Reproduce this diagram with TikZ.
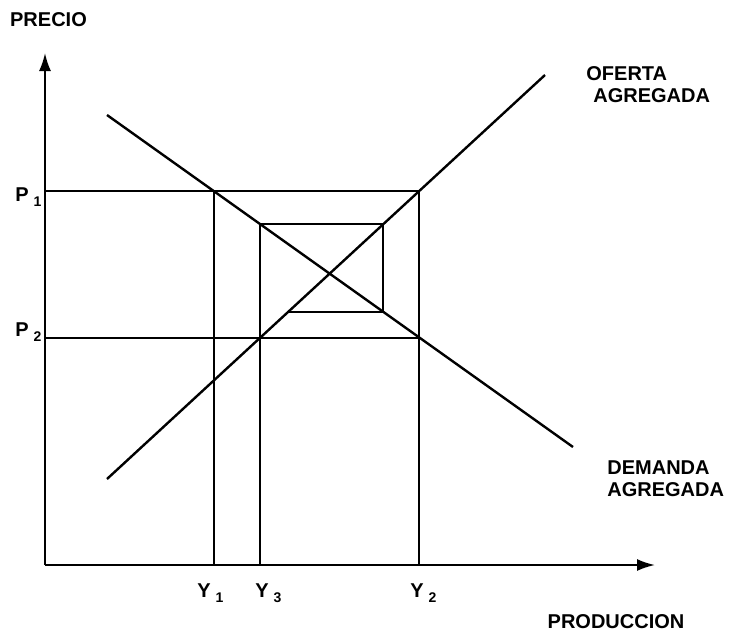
\documentclass[tikz,border=0pt]{standalone}
\usepackage{fontspec}
\setmainfont{Liberation Sans}
\usetikzlibrary{arrows.meta}
\newcommand{\sublab}[2]{#1\kern2.5pt\raisebox{-2.5pt}{\fontsize{7}{8}\selectfont #2}}

\begin{document}
\begin{tikzpicture}[x=0.5pt, y=-0.5pt,
        >={Latex[length=9pt,width=6pt]},
        axis/.style={line width=1pt, ->},
        guide/.style={line width=1pt},
        curve/.style={line width=1.2pt},
        label/.style={font=\fontsize{10}{11}\selectfont\bfseries, inner sep=0pt},
        caption/.style={label, align=left, anchor=west},
    ]
    \useasboundingbox (0,0) rectangle (730,634);

    % Axes
    \coordinate (origin) at (45,565);
    \coordinate (ytip) at (45,53);
    \coordinate (xtip) at (655,565);
    \draw[axis] (origin) -- (ytip);
    \draw[axis] (origin) -- (xtip);

    % Demand and supply
    \coordinate (dem_start) at (107,115);
    \coordinate (dem_end) at (573,447);
    \coordinate (sup_start) at (107,479);
    \coordinate (sup_end) at (545,75);
    \draw[curve] (dem_start) -- (dem_end);
    \draw[curve] (sup_start) -- (sup_end);

    % Price levels
    \coordinate (p1) at (45,191);
    \coordinate (p2) at (45,338);
    \coordinate (a) at (214,191);
    \coordinate (b) at (419,191);
    \coordinate (c) at (419,338);
    \draw[guide] (p1) -- (b);
    \draw[guide] (p2) -- (c);
    \draw[guide] (a) -- (a |- origin);
    \draw[guide] (b) -- (b |- origin);

    % Adjustment path from Y3
    \coordinate (e) at (260,224);
    \coordinate (f) at (383,224);
    \coordinate (g) at (383,312);
    \coordinate (h) at (288,312);
    \draw[guide] (e |- origin) -- (e) -- (f) -- (g) -- (h);

    % Axis labels
    \node[label] (precio) at (48.5,19.5) {PRECIO};
    \node[label] (produccion) at (616,622) {PRODUCCION};
    \node[label, anchor=base west] (lp1) at (15,201) {\sublab{P}{1}};
    \node[label, anchor=base west] (lp2) at (15,336) {\sublab{P}{2}};
    \node[label, anchor=base west] (ly1) at (197,597) {\sublab{Y}{1}};
    \node[label, anchor=base west] (ly3) at (255,597) {\sublab{Y}{3}};
    \node[label, anchor=base west] (ly2) at (410,597) {\sublab{Y}{2}};

    % Curve labels
    \node[caption] (oferta) at (586,84.5) {OFERTA\\\hspace*{3.5pt}AGREGADA};
    \node[caption] (demanda) at (607,478.5) {DEMANDA\\AGREGADA};

\end{tikzpicture}
\end{document}
